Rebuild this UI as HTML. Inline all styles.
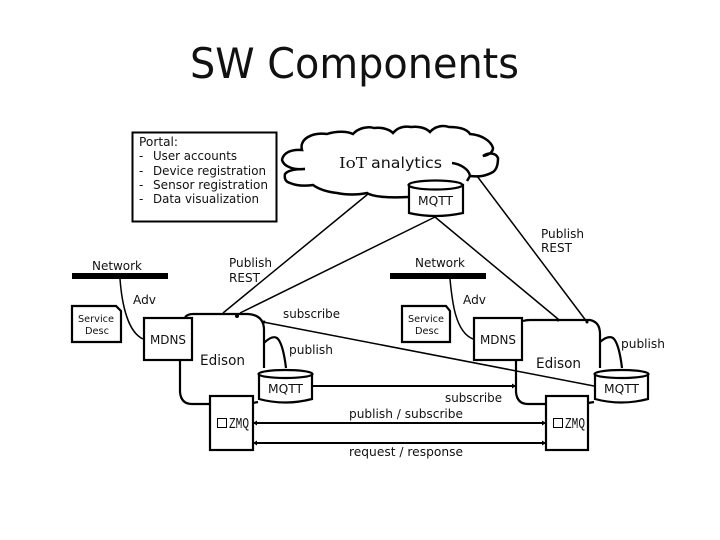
<!DOCTYPE html>
<html><head><meta charset="utf-8"><style>
html,body{margin:0;padding:0;background:#fff;width:720px;height:540px;overflow:hidden}
svg{display:block}
text{font-family:"DejaVu Sans","Liberation Sans",sans-serif;font-size:12px;fill:#111}
</style></head><body>
<svg width="720" height="540" viewBox="0 0 720 540" xmlns="http://www.w3.org/2000/svg">
<rect width="720" height="540" fill="#fff"/>
<text x="190" y="78" style="font-size:42px" textLength="329" lengthAdjust="spacingAndGlyphs">SW Components</text>

<rect x="132.500" y="132.500" width="144" height="89" fill="none" stroke="#000" stroke-width="2"/>
<text x="139" y="146" textLength="39" lengthAdjust="spacingAndGlyphs">Portal:</text>
<text x="139" y="160">-</text><text x="153" y="160" textLength="84" lengthAdjust="spacingAndGlyphs">User accounts</text>
<text x="139" y="175">-</text><text x="153" y="175" textLength="113" lengthAdjust="spacingAndGlyphs">Device registration</text>
<text x="139" y="189">-</text><text x="153" y="189" textLength="115" lengthAdjust="spacingAndGlyphs">Sensor registration</text>
<text x="139" y="203">-</text><text x="153" y="203" textLength="106" lengthAdjust="spacingAndGlyphs">Data visualization</text>

<g fill="none" stroke="#000" stroke-width="2">
<path stroke-width="2.500" d="M305 169C294 170 284 167 282 160C283 153 291 149 302 150C299 139 312 132 327 134C336 131 347 131 353 134C358 128 368 126 374 128C381 127 389 129 393 133C398 127 405 126 411 127C419 126 426 128 430 132C435 126 443 125 449 127C459 127 467 129 470 134C482 135 491 141 493 148C493 152 489 155 483 156C489 152 496 153 498 158C498 166 496 170 493 172C486 176 480 177 470 176C469 169 460 164 452 163M470 176L467 181M305 169C296 169 288 170 285 174C284 179 286 182 290 183C297 186 306 186 313 185C320 190 328 192 337 193C346 195 358 195 367 193C373 197 390 198 408 197"/>
<path d="M368 194L223 313M435 217L240 313M435 217L558 319M477 176L587 322M263 322L594 386" stroke-width="1.500"/>
<path d="M120 279C122 305 128 332 143 339M450 279C452 300 455 332 473 339" stroke-width="1.500"/>
<path stroke-width="2.200" d="M185 317Q188 314 193 314L248 314Q264 315 264 330L264 368M180 360L180 392Q181 404 192 404L210 404M264 343Q272 335 277 338Q283 343 286 368M253 403L258 402"/>
<path stroke-width="2.200" d="M523 321Q526 320 530 320L590 320Q600 322 600 334L600 368M516 360L516 392Q517 404 528 404L546 404M600 342Q608 335 613 338Q619 343 622 368M588 403L594 402"/>
<path d="M312 386L515 386M253 423L545 423M253 443L545 443" stroke-width="2"/>
</g>
<path d="M256 423l-0-2v4zM546 423l-4-2.500v5zM256 443l-0-2v4zM546 443l-4-2.500v5zM516 386l-4-2.500v5zM253 423l4-2.500v5zM253 443l4-2.500v5z" fill="#000"/>
<circle cx="237" cy="316" r="2" fill="#000"/><circle cx="264" cy="322" r="1.500" fill="#000"/><circle cx="587" cy="322" r="1.500" fill="#000"/><circle cx="558" cy="320" r="1.500" fill="#000"/>

<rect x="72" y="273" width="96" height="6" fill="#000"/>
<rect x="390" y="273" width="96" height="6" fill="#000"/>

<g fill="#fff" stroke="#000" stroke-width="2.200">
<path d="M409 185V213Q435 219 463 213V185Z"/>
<ellipse cx="435.500" cy="185" rx="27" ry="4.500"/>
<path d="M259 374V399Q285 406 312 399V374Z"/>
<ellipse cx="285.500" cy="374" rx="27" ry="4"/>
<path d="M595 374V399Q621 406 648 399V374Z"/>
<ellipse cx="621.500" cy="374" rx="27" ry="4"/>
<rect x="144" y="318" width="48" height="42"/>
<rect x="474" y="318" width="48" height="42"/>
<rect x="210" y="396" width="43" height="54"/>
<rect x="546" y="396" width="42" height="54"/>
<path d="M72 306H116L121 311V342H72Z"/>
<path d="M402 306H446L450 311V342H402Z"/>
</g>

<text x="339" y="168" style="font-size:15px;font-family:'DejaVu Serif','Liberation Serif',serif" textLength="28" lengthAdjust="spacingAndGlyphs">IoT</text>
<text x="371" y="168" style="font-size:15px" textLength="71" lengthAdjust="spacingAndGlyphs">analytics</text>
<text x="418" y="205" textLength="35" lengthAdjust="spacingAndGlyphs">MQTT</text>
<text x="92" y="270" textLength="50" lengthAdjust="spacingAndGlyphs">Network</text>
<text x="415" y="267" textLength="50" lengthAdjust="spacingAndGlyphs">Network</text>
<text x="229" y="267" textLength="43" lengthAdjust="spacingAndGlyphs">Publish</text>
<text x="229" y="282" textLength="31" lengthAdjust="spacingAndGlyphs">REST</text>
<text x="541" y="238" textLength="43" lengthAdjust="spacingAndGlyphs">Publish</text>
<text x="541" y="252" textLength="31" lengthAdjust="spacingAndGlyphs">REST</text>
<text x="133" y="304" textLength="23" lengthAdjust="spacingAndGlyphs">Adv</text>
<text x="463" y="304" textLength="23" lengthAdjust="spacingAndGlyphs">Adv</text>
<text x="78" y="322" style="font-size:10px" textLength="36" lengthAdjust="spacingAndGlyphs">Service</text>
<text x="85" y="334" style="font-size:10px" textLength="24" lengthAdjust="spacingAndGlyphs">Desc</text>
<text x="408" y="322" style="font-size:10px" textLength="36" lengthAdjust="spacingAndGlyphs">Service</text>
<text x="415" y="334" style="font-size:10px" textLength="24" lengthAdjust="spacingAndGlyphs">Desc</text>
<text x="150" y="344" textLength="36" lengthAdjust="spacingAndGlyphs">MDNS</text>
<text x="480" y="344" textLength="36" lengthAdjust="spacingAndGlyphs">MDNS</text>
<text x="200" y="365" style="font-size:14px" textLength="45" lengthAdjust="spacingAndGlyphs">Edison</text>
<text x="536" y="368" style="font-size:14px" textLength="45" lengthAdjust="spacingAndGlyphs">Edison</text>
<text x="283" y="318" textLength="57" lengthAdjust="spacingAndGlyphs">subscribe</text>
<text x="289" y="354" textLength="44" lengthAdjust="spacingAndGlyphs">publish</text>
<text x="621" y="348" textLength="44" lengthAdjust="spacingAndGlyphs">publish</text>
<text x="268" y="393" textLength="35" lengthAdjust="spacingAndGlyphs">MQTT</text>
<text x="604" y="393" textLength="35" lengthAdjust="spacingAndGlyphs">MQTT</text>
<text x="445" y="402" textLength="57" lengthAdjust="spacingAndGlyphs">subscribe</text>
<text x="349" y="418" textLength="114" lengthAdjust="spacingAndGlyphs">publish / subscribe</text>
<text x="349" y="456" textLength="114" lengthAdjust="spacingAndGlyphs">request / response</text>

<rect x="217.500" y="418.500" width="9" height="9" fill="none" stroke="#000" stroke-width="1"/>
<text x="229" y="428" style="font-size:15px;font-family:'Liberation Mono',monospace" textLength="20" lengthAdjust="spacingAndGlyphs">ZMQ</text>
<rect x="553.500" y="418.500" width="9" height="9" fill="none" stroke="#000" stroke-width="1"/>
<text x="565" y="428" style="font-size:15px;font-family:'Liberation Mono',monospace" textLength="20" lengthAdjust="spacingAndGlyphs">ZMQ</text>
</svg>
</body></html>
